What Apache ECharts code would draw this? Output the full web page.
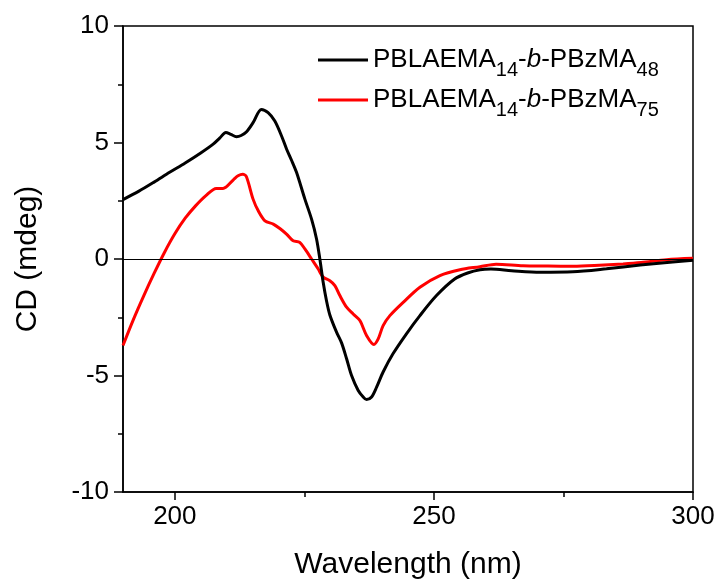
<!DOCTYPE html>
<html>
<head>
<meta charset="utf-8">
<script src="https://cdn.jsdelivr.net/npm/echarts@6/dist/echarts.min.js"></script>
<style>html,body{margin:0;padding:0;background:#fff}#c{width:720px;height:585px}</style>
</head>
<body>
<div id="c"></div>
<script>
var seriesNames = ['PBLAEMA14-b-PBzMA48', 'PBLAEMA14-b-PBzMA75'];
var xTickValues = [200, 250, 300];
var xMinorTickValues = [225, 275];

var wavelengthBlack = [190,193,196,199,202,205,207.4,208.7,209.85,210.8,211.9,212.8,213.8,215.1,216.7,218,219.3,220.6,221.6,222.5,223.5,225.1,226.39,227.35,227.99,228.63,229.28,229.92,231.21,232.18,233.15,234.11,235.39,236.36,237,237.97,238.94,240.2,242.1,244.7,247.3,250.5,254,256.5,258.9,261,265,270.5,276.8,283.3,289.8,295,300];
var cdBlack = [2.55,2.9,3.3,3.72,4.12,4.55,4.93,5.2,5.43,5.35,5.25,5.3,5.45,5.85,6.42,6.28,5.92,5.28,4.7,4.25,3.71,2.57,1.71,0.86,0,-1.0,-1.8,-2.4,-3.14,-3.6,-4.28,-5.0,-5.64,-5.92,-6.03,-5.92,-5.5,-4.85,-4.07,-3.21,-2.43,-1.57,-0.86,-0.6,-0.46,-0.43,-0.5,-0.57,-0.55,-0.42,-0.26,-0.15,-0.05];

var wavelengthRed = [190,192,194,196,198,200,202,204,206,208,209.3,211.3,212.2,213.1,213.8,215.1,216.1,217.4,219,220.27,221.56,222.84,224.13,225.1,226.39,227.67,228.63,229.92,230.89,231.85,233.15,234.42,235.71,237,238.42,239.25,240.2,241.5,244.07,247.3,251.16,255.02,258.88,262,267.2,272,276.9,281,286.5,290,294.9,300];
var cdRed = [-3.71,-2.6,-1.58,-0.62,0.28,1.08,1.75,2.28,2.72,3.03,3.03,3.40,3.57,3.64,3.54,2.57,2.07,1.64,1.50,1.31,1.07,0.78,0.71,0.43,0,-0.43,-0.78,-0.93,-1.14,-1.57,-2.07,-2.36,-2.64,-3.28,-3.67,-3.43,-2.86,-2.43,-1.86,-1.21,-0.71,-0.46,-0.33,-0.22,-0.29,-0.3,-0.31,-0.28,-0.21,-0.15,-0.03,0.03];

function pairs(xs, ys){ return xs.map(function(x,i){ return [x, ys[i]]; }); }

var FONT = 'Liberation Sans, Arial, sans-serif';
var chart = echarts.init(document.getElementById('c'));
chart.setOption({
  animation: false,
  backgroundColor: '#fff',
  grid: { left: 123, right: 27, top: 26, bottom: 92, show: true, borderColor: '#000', borderWidth: 1.5, backgroundColor: 'transparent' },
  legend: {
    orient: 'vertical', left: 318, top: 47, padding: 0, itemGap: 7,
    itemWidth: 50, itemHeight: 3, icon: 'rect',
    data: seriesNames,
    formatter: function(name){
      var m = name.match(/^PBLAEMA(\d+)-b-PBzMA(\d+)$/);
      return '{n|PBLAEMA}{s|' + m[1] + '}{n|-}{i|b}{n|-PBzMA}{s|' + m[2] + '}';
    },
    textStyle: {
      color: '#000', fontFamily: FONT, fontSize: 26,
      rich: {
        n: { fontFamily: FONT, fontSize: 26, lineHeight: 40, verticalAlign: 'middle', color: '#000' },
        i: { fontFamily: FONT, fontSize: 26, fontStyle: 'italic', lineHeight: 40, verticalAlign: 'middle', color: '#000' },
        s: { fontFamily: FONT, fontSize: 20, lineHeight: 20, verticalAlign: 'bottom', color: '#000' }
      }
    }
  },
  xAxis: [{
    type: 'value', min: 190, max: 300,
    name: 'Wavelength (nm)', nameLocation: 'middle', nameGap: 58,
    nameTextStyle: { fontFamily: FONT, fontSize: 30, color: '#000' },
    axisLine: { show: true, onZero: false, lineStyle: { color: '#000', width: 1.5 } },
    axisTick: { show: true, inside: false, length: 8, customValues: xTickValues, lineStyle: { color: '#000', width: 1.5 } },
    axisLabel: { show: true, customValues: xTickValues, margin: 12, fontFamily: FONT, fontSize: 26, color: '#000' },
    splitLine: { show: false }
  }, {
    type: 'value', min: 190, max: 300, position: 'bottom', gridIndex: 0,
    axisLine: { show: false, onZero: false },
    axisTick: { show: true, inside: false, length: 5, customValues: xMinorTickValues, lineStyle: { color: '#000', width: 1.5 } },
    axisLabel: { show: false },
    splitLine: { show: false }
  }],
  yAxis: {
    type: 'value', min: -10, max: 10, interval: 5,
    name: 'CD (mdeg)', nameLocation: 'middle', nameGap: 80,
    nameTextStyle: { fontFamily: FONT, fontSize: 30, color: '#000' },
    axisLine: { show: true, onZero: false, lineStyle: { color: '#000', width: 1.5 } },
    axisTick: { show: true, inside: false, length: 9, lineStyle: { color: '#000', width: 1.5 } },
    minorTick: { show: true, splitNumber: 2, length: 5, lineStyle: { color: '#000', width: 1.5 } },
    axisLabel: { margin: 14, fontFamily: FONT, fontSize: 26, color: '#000' },
    splitLine: { show: false }
  },
  series: [{
    name: seriesNames[0], type: 'line', xAxisIndex: 0, data: pairs(wavelengthBlack, cdBlack),
    symbol: 'none', smooth: 0.3, color: '#000', itemStyle: { color: '#000' },
    lineStyle: { color: '#000', width: 3 },
    markLine: { silent: true, symbol: ['none','none'], label: { show: false },
      lineStyle: { color: '#000', width: 1, type: 'solid' }, data: [{ yAxis: 0 }] },
    z: 3
  }, {
    name: seriesNames[1], type: 'line', xAxisIndex: 0, data: pairs(wavelengthRed, cdRed),
    symbol: 'none', smooth: 0.3, color: '#ff0000', itemStyle: { color: '#ff0000' },
    lineStyle: { color: '#ff0000', width: 3 },
    z: 2
  }]
});
</script>
</body>
</html>
